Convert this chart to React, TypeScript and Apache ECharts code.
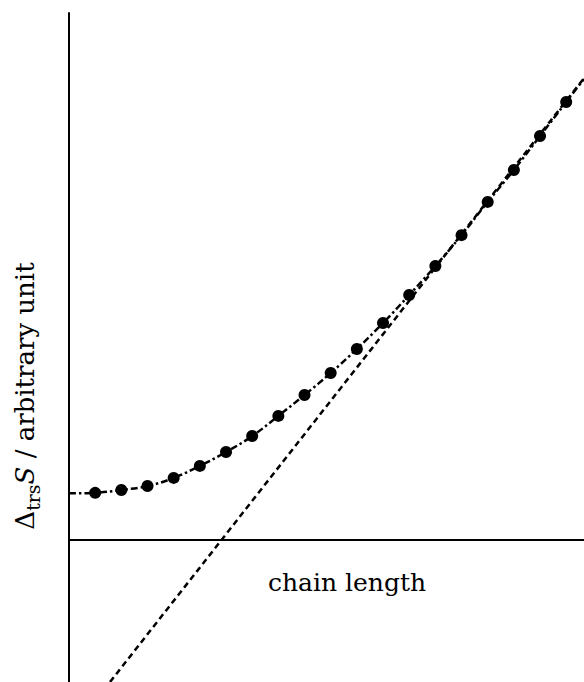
import React, { useEffect, useRef } from "react";
import * as echarts from "echarts";

// chain length index (x) and entropy of transition (arbitrary units)
const chainLength = [1, 2, 3, 4, 5, 6, 7, 8, 9, 10, 11, 12, 13, 14, 15, 16, 17, 18, 19];
const deltaS = [1.8, 1.91, 2.06, 2.37, 2.83, 3.36, 3.97, 4.74, 5.54, 6.38, 7.3, 8.29, 9.36, 10.47, 11.65, 12.92, 14.14, 15.44, 16.74];
// curve ends (extension of the dash-dot fit beyond the data)
const curveStart = [0, 1.78];
const curveEnd = [19.68, 17.62];
// straight asymptote (dashed)
const asymptote = [
  [1.567, -5.43],
  [19.68, 17.65],
];

const X_MIN = 0;
const X_MAX = 19.68;
const Y_MIN = -5.43;
const Y_MAX = 20.14;

export default function App() {
  const ref = useRef<HTMLDivElement>(null);
  useEffect(() => {
    if (!ref.current) return;
    const chart = echarts.init(ref.current, undefined, { renderer: "svg" });
    const points = chainLength.map((x, i) => [x, deltaS[i]]);
    const curve = [curveStart, ...points, curveEnd];
    chart.setOption({
      animation: false,
      backgroundColor: "#ffffff",
      grid: { left: 69, right: 0, top: 13, bottom: 0 },
      xAxis: {
        type: "value",
        min: X_MIN,
        max: X_MAX,
        axisLine: { show: true, onZero: true, lineStyle: { color: "#000", width: 2 } },
        axisTick: { show: false },
        axisLabel: { show: false },
        splitLine: { show: false },
      },
      yAxis: {
        type: "value",
        min: Y_MIN,
        max: Y_MAX,
        axisLine: { show: true, onZero: false, lineStyle: { color: "#000", width: 2 } },
        axisTick: { show: false },
        axisLabel: { show: false },
        splitLine: { show: false },
      },
      graphic: [
        {
          type: "text",
          left: 268,
          top: 570,
          style: { text: "chain length", font: "25px 'DejaVu Serif'", fill: "#000" },
        },
        {
          type: "text",
          x: 25,
          y: 396,
          rotation: Math.PI / 2,
          style: {
            text: "{a|Δ}{sub|trs}{i|S}{a| / arbitrary unit}",
            align: "center",
            verticalAlign: "middle",
            fill: "#000",
            rich: {
              a: { fontFamily: "DejaVu Serif", fontSize: 26, fill: "#000", lineHeight: 34, verticalAlign: "middle" },
              i: { fontFamily: "DejaVu Serif", fontStyle: "italic", fontSize: 26, fill: "#000", lineHeight: 34, verticalAlign: "middle" },
              sub: { fontFamily: "DejaVu Serif", fontSize: 19, fill: "#000", lineHeight: 19, verticalAlign: "bottom" },
            },
          },
        },
      ],
      series: [
        {
          type: "line",
          data: asymptote,
          showSymbol: false,
          symbol: "none",
          lineStyle: { color: "#000", width: 2.5, type: [6, 4] },
          z: 1,
        },
        {
          type: "line",
          data: curve,
          smooth: 0.4,
          showSymbol: false,
          symbol: "none",
          lineStyle: { color: "#000", width: 2.5, type: [7, 3, 2.5, 3] },
          z: 2,
        },
        {
          type: "scatter",
          data: points,
          symbol: "circle",
          symbolSize: 12,
          itemStyle: { color: "#000", opacity: 1 },
          z: 3,
        },
      ],
    });
    return () => chart.dispose();
  }, []);
  return (
    <div
      ref={ref}
      style={{ position: "fixed", left: 0, top: 0, width: 584, height: 682, background: "#fff" }}
    />
  );
}
